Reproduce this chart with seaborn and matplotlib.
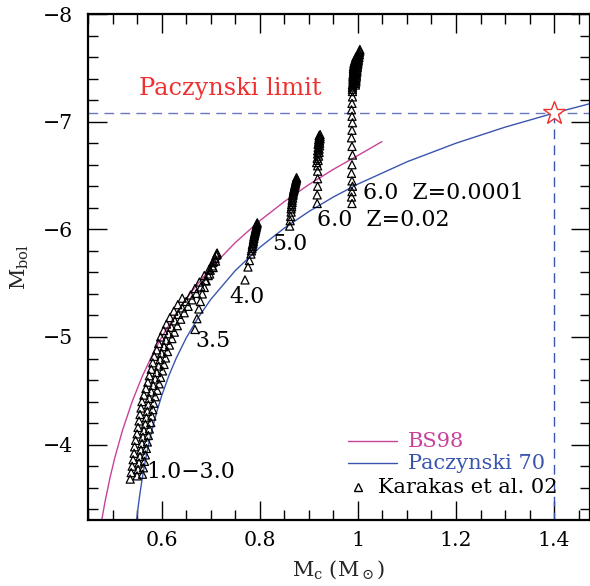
import numpy as np
import pandas as pd
import matplotlib
matplotlib.use("Agg")
import matplotlib.pyplot as plt
import seaborn as sns
from matplotlib.ticker import MultipleLocator

# ---------------- data ----------------
# Paczynski (1970) core-mass / luminosity relation
pac_mc = [0.549, 0.552, 0.555, 0.560, 0.565, 0.570, 0.575, 0.580, 0.590, 0.600,
          0.615, 0.630, 0.650, 0.675, 0.700, 0.750, 0.800, 0.850, 0.900, 0.950,
          1.000, 1.100, 1.200, 1.300, 1.400, 1.472]
pac_mbol = [-3.300, -3.414, -3.518, -3.671, -3.805, -3.925, -4.032, -4.130, -4.303, -4.452,
            -4.643, -4.805, -4.990, -5.183, -5.348, -5.616, -5.832, -6.011, -6.165, -6.300,
            -6.420, -6.627, -6.800, -6.949, -7.080, -7.166]

# BS98 relation
bs_mc = [0.478, 0.485, 0.495, 0.505, 0.520, 0.540, 0.560, 0.580, 0.600, 0.630, 0.660,
         0.700, 0.750, 0.800, 0.850, 0.900, 0.950, 1.000, 1.049]
bs_mbol = [-3.300, -3.477, -3.696, -3.885, -4.129, -4.400, -4.628, -4.824, -4.997, -5.222, -5.415,
           -5.639, -5.876, -6.079, -6.257, -6.415, -6.557, -6.686, -6.815]

# Karakas et al. 02 models: 1.0-3.0 Msun band (three overlapping tracks)
k13a_mc = [0.536, 0.538, 0.540, 0.542, 0.544, 0.545, 0.547, 0.550, 0.552, 0.554, 0.556, 0.558,
           0.560, 0.564, 0.568, 0.572, 0.575, 0.579, 0.582, 0.585, 0.590, 0.594, 0.598, 0.604,
           0.610, 0.617, 0.625, 0.633, 0.642]
k13a_mbol = [-3.68, -3.74, -3.80, -3.86, -3.92, -3.98, -4.04, -4.10, -4.16, -4.22, -4.28, -4.34,
             -4.40, -4.46, -4.52, -4.58, -4.64, -4.70, -4.76, -4.82, -4.88, -4.94, -5.00, -5.06,
             -5.12, -5.18, -5.24, -5.30, -5.36]
k13c_mc = [0.550, 0.552, 0.554, 0.556, 0.558, 0.560, 0.562, 0.564, 0.567, 0.569, 0.571, 0.573,
           0.575, 0.579, 0.583, 0.587, 0.590, 0.594, 0.597, 0.600, 0.605, 0.609, 0.614, 0.620,
           0.627, 0.634, 0.642, 0.650, 0.659, 0.668, 0.677, 0.687, 0.697, 0.704]
k13c_mbol = [-3.71, -3.77, -3.83, -3.89, -3.95, -4.01, -4.07, -4.13, -4.19, -4.25, -4.31, -4.37,
             -4.43, -4.49, -4.55, -4.61, -4.67, -4.73, -4.79, -4.85, -4.91, -4.97, -5.03, -5.09,
             -5.15, -5.21, -5.27, -5.33, -5.39, -5.45, -5.51, -5.57, -5.63, -5.69]
k13d_mc = [0.561, 0.563, 0.565, 0.567, 0.569, 0.571, 0.573, 0.575, 0.578, 0.580, 0.582, 0.584,
           0.587, 0.591, 0.595, 0.598, 0.602, 0.605, 0.608, 0.612, 0.616, 0.621, 0.626, 0.632,
           0.639, 0.646, 0.654, 0.662, 0.671, 0.680, 0.689, 0.698, 0.705, 0.710, 0.713]
k13d_mbol = [-3.725, -3.785, -3.845, -3.905, -3.965, -4.025, -4.085, -4.145, -4.205, -4.265,
             -4.325, -4.385, -4.445, -4.505, -4.565, -4.625, -4.685, -4.745, -4.805, -4.865,
             -4.925, -4.985, -5.045, -5.105, -5.165, -5.225, -5.285, -5.345, -5.405, -5.465,
             -5.525, -5.585, -5.645, -5.705, -5.765]
# 3.5 Msun
k35_mc = [0.668, 0.672, 0.676, 0.679, 0.683, 0.687, 0.691, 0.695, 0.699, 0.703, 0.706, 0.709, 0.711, 0.713]
k35_mbol = [-5.07, -5.17, -5.26, -5.33, -5.40, -5.46, -5.52, -5.57, -5.62, -5.66, -5.70, -5.73, -5.76, -5.78]
# 4.0 Msun
k40_mc = [0.770, 0.776, 0.779, 0.782, 0.783, 0.784, 0.785, 0.785, 0.786, 0.787, 0.787, 0.788,
          0.788, 0.789, 0.789, 0.790, 0.790, 0.791, 0.791, 0.792, 0.792, 0.793, 0.793, 0.794,
          0.794, 0.795]
k40_mbol = [-5.53, -5.65, -5.71, -5.77, -5.80, -5.82, -5.84, -5.855, -5.87, -5.885, -5.90, -5.915,
            -5.93, -5.94, -5.95, -5.96, -5.97, -5.98, -5.99, -6.00, -6.01, -6.02, -6.03, -6.04,
            -6.05, -6.06]
# 5.0 Msun
k50_mc = [0.861, 0.862, 0.863, 0.864, 0.864, 0.865, 0.865, 0.866, 0.866, 0.867, 0.867, 0.868,
          0.868, 0.869, 0.869, 0.870, 0.870, 0.871, 0.871, 0.872, 0.872, 0.873, 0.873, 0.874,
          0.874, 0.875, 0.875]
k50_mbol = [-6.03, -6.08, -6.12, -6.16, -6.19, -6.21, -6.23, -6.25, -6.27, -6.29, -6.31, -6.32,
            -6.335, -6.35, -6.36, -6.37, -6.38, -6.39, -6.40, -6.41, -6.42, -6.43, -6.44, -6.45,
            -6.46, -6.47, -6.48]
# 6.0 Msun, Z = 0.02
k60a_mc = [0.917, 0.917, 0.918, 0.918, 0.918, 0.918, 0.916, 0.919, 0.917, 0.920, 0.918, 0.921,
           0.918, 0.921, 0.919, 0.922, 0.919, 0.922, 0.920, 0.922, 0.920, 0.923, 0.921, 0.923,
           0.921, 0.923]
k60a_mbol = [-6.24, -6.32, -6.40, -6.47, -6.54, -6.59, -6.62, -6.64, -6.66, -6.68, -6.70, -6.715,
             -6.73, -6.745, -6.76, -6.775, -6.79, -6.80, -6.81, -6.82, -6.83, -6.84, -6.85, -6.86,
             -6.87, -6.88]
# 6.0 Msun, Z = 0.0001 (sparse lower part + dense upper part in two strands)
k60b_mc = [0.988, 0.987, 0.988, 0.989, 0.988, 0.987, 0.988, 0.989, 0.988, 0.987, 0.988, 0.989,
           0.988, 0.987, 0.988, 0.989, 0.989]
k60b_mbol = [-6.24, -6.30, -6.35, -6.40, -6.45, -6.52, -6.60, -6.69, -6.77, -6.85, -6.92, -6.99,
             -7.05, -7.11, -7.17, -7.23, -7.28]
k60c_mc = [0.989, 0.989, 0.989, 0.989, 0.990, 0.990, 0.990, 0.990, 0.990, 0.990, 0.991, 0.991,
           0.991, 0.991, 0.991, 0.992, 0.992, 0.993, 0.994, 0.995, 0.996]
k60c_mbol = [-7.30, -7.315, -7.33, -7.345, -7.36, -7.375, -7.39, -7.405, -7.42, -7.435, -7.45,
             -7.465, -7.48, -7.495, -7.51, -7.525, -7.54, -7.555, -7.57, -7.585, -7.60]
k60d_mc = [0.995, 0.995, 0.996, 0.996, 0.996, 0.997, 0.997, 0.997, 0.998, 0.998, 0.998, 0.999,
           0.999, 1.000, 1.000, 1.001, 1.001, 1.002, 1.002, 1.003, 1.003, 1.004, 1.004]
k60d_mbol = [-7.34, -7.355, -7.37, -7.385, -7.40, -7.415, -7.43, -7.445, -7.46, -7.475, -7.49,
             -7.505, -7.52, -7.535, -7.55, -7.565, -7.58, -7.595, -7.61, -7.625, -7.64, -7.655, -7.67]

limit_mc = 1.4
limit_mbol = -7.08

track_labels = ["1.0\u22123.0", "3.5", "4.0", "5.0", "6.0  Z=0.02", "6.0  Z=0.0001"]
track_label_x = [0.568, 0.668, 0.739, 0.826, 0.916, 1.011]
track_label_y = [-3.75, -4.96, -5.37, -5.86, -6.09, -6.34]

legend_labels = ["BS98", "Paczynski 70", "Karakas et al. 02"]

xticks = [0.6, 0.8, 1.0, 1.2, 1.4]
yticks = [-4, -5, -6, -7, -8]

# ---------------- style ----------------
sns.set_theme(style="ticks")
plt.rcParams["font.family"] = ["DejaVu Serif"]
plt.rcParams["mathtext.fontset"] = "dejavuserif"

MAG = "#c8429a"
BLUE = "#3a55b0"
RED = "#ee3030"

fig = plt.figure(figsize=(5.9, 5.86), dpi=100)
ax = fig.add_axes([88 / 590, 1 - 520 / 586, (589.5 - 88) / 590, (520 - 14) / 586])

sns.lineplot(x=bs_mc, y=bs_mbol, ax=ax, color=MAG, lw=1.0, sort=False, estimator=None)
sns.lineplot(x=pac_mc, y=pac_mbol, ax=ax, color=BLUE, lw=1.0, sort=False, estimator=None)

tracks = [(k13a_mc, k13a_mbol), (k13c_mc, k13c_mbol), (k13d_mc, k13d_mbol),
          (k35_mc, k35_mbol), (k40_mc, k40_mbol), (k50_mc, k50_mbol),
          (k60a_mc, k60a_mbol), (k60b_mc, k60b_mbol), (k60c_mc, k60c_mbol), (k60d_mc, k60d_mbol)]
for tx, ty in tracks:
    sns.scatterplot(x=tx, y=ty, ax=ax, marker="^", s=34, color="black",
                    facecolor="none", edgecolor="black", linewidth=0.9, zorder=3)

# Paczynski limit
ax.axhline(limit_mbol, color="#6a78bd", lw=1.0, ls=(0, (7, 4.5)), zorder=1)
ax.plot([limit_mc, limit_mc], [limit_mbol, -3.0], color=BLUE, lw=1.0, ls=(0, (7, 4.5)), zorder=1)
ax.plot([limit_mc], [limit_mbol], marker="*", ms=17, mfc="white", mec=RED, mew=1.0, zorder=4)
ax.text(0.739, -7.31, "Paczynski limit", color=RED, fontsize=17.3, ha="center", va="center")

for lab, lx, ly in zip(track_labels, track_label_x, track_label_y):
    ax.text(lx, ly, lab, fontsize=15.8, ha="left", va="center", color="black")

ax.set_xlim(0.45, 1.472)
ax.set_ylim(-3.30, -8.0)
ax.set_xticks(xticks)
ax.set_xticklabels([f"{v:.1f}" if v != 1.0 else "1" for v in xticks])
ax.set_yticks(yticks)
ax.xaxis.set_minor_locator(MultipleLocator(0.05))
ax.yaxis.set_minor_locator(MultipleLocator(0.2))
ax.tick_params(which="both", direction="in", top=True, right=True, colors="black",
               labelsize=14.8, width=1.0)
ax.tick_params(which="major", length=14)
ax.tick_params(which="minor", length=7)
ax.tick_params(axis="x", pad=8)
ax.tick_params(axis="y", pad=11)
for sp in ax.spines.values():
    sp.set_linewidth(1.6)
    sp.set_color("black")

ax.set_xlabel(r"M$_\mathrm{c}$ (M$_\odot$)", fontsize=15, labelpad=6)
ax.set_ylabel(r"M$_\mathrm{bol}$", fontsize=15, labelpad=8)

# hand-placed legend (as in the reference: marker row indented differently)
ax.plot([0.518, 0.616], [0.156, 0.156], transform=ax.transAxes, color=MAG, lw=1.0)
ax.plot([0.518, 0.616], [0.1126, 0.1126], transform=ax.transAxes, color=BLUE, lw=1.0)
ax.plot([0.538], [0.0652], transform=ax.transAxes, ls="none", marker="^", ms=5.5,
        mfc="none", mec="black", mew=1.0)
ax.text(0.638, 0.156, legend_labels[0], transform=ax.transAxes, color=MAG, fontsize=15,
        ha="left", va="center")
ax.text(0.638, 0.1126, legend_labels[1], transform=ax.transAxes, color=BLUE, fontsize=15,
        ha="left", va="center")
ax.text(0.578, 0.0652, legend_labels[2], transform=ax.transAxes, color="black", fontsize=15,
        ha="left", va="center")

fig.savefig("out.png", dpi=100)
